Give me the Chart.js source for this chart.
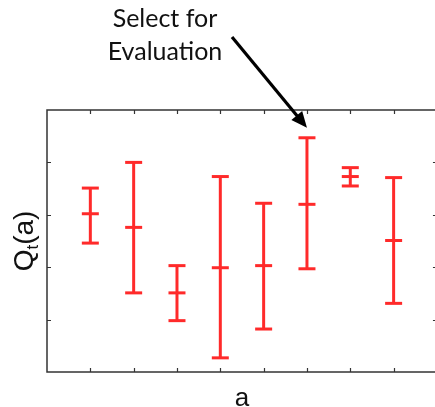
<!DOCTYPE html>
<html><head><meta charset="utf-8">
<script src="https://cdn.jsdelivr.net/npm/chart.js@4"></script>
<style>html,body{margin:0;padding:0;overflow:hidden;background:#fff}#wrap{width:435px;height:407px}</style>
</head><body><div id="wrap"><canvas id="c" width="435" height="407"></canvas></div>
<script>
const categories = [1, 2, 3, 4, 5, 6, 7, 8];
const meanValues = [3.02, 2.76, 1.51, 1.99, 2.03, 3.20, 3.73, 2.51];
const lowValues  = [2.46, 1.51, 0.98, 0.27, 0.82, 1.97, 3.55, 1.31];
const highValues = [3.51, 4.00, 2.03, 3.73, 3.22, 4.47, 3.90, 3.71];
const xTicks = [1, 2, 3, 4, 5, 6, 7, 8];
const yTicks = [1, 2, 3, 4];
const xMin = 0, xMax = 9, xVisibleMax = 8.955;
const selectedIndex = 5;

const RED = '#ff2a2a';
const pts = arr => categories.map((c, i) => ({x: c, y: arr[i]}));
const capDs = (arr) => ({
  type: 'scatter', data: pts(arr), pointStyle: 'line', pointRadius: 8.5,
  pointHoverRadius: 8.5, borderColor: RED, backgroundColor: RED, borderWidth: 3
});

const deco = {
  id: 'deco',
  beforeDatasetsDraw(chart) {
    const {ctx, scales: {x, y}} = chart;
    ctx.save();
    ctx.strokeStyle = RED; ctx.lineWidth = 3;
    categories.forEach((c, i) => {
      const px = x.getPixelForValue(c);
      ctx.beginPath();
      ctx.moveTo(px, y.getPixelForValue(lowValues[i]));
      ctx.lineTo(px, y.getPixelForValue(highValues[i]));
      ctx.stroke();
    });
    ctx.restore();
  },
  afterDraw(chart) {
    const {ctx, scales: {x, y}} = chart;
    ctx.save();
    const left = x.getPixelForValue(xMin), right = x.getPixelForValue(xMax);
    const top = y.getPixelForValue(5), bottom = y.getPixelForValue(0);
    // box
    ctx.strokeStyle = '#333'; ctx.lineWidth = 1.5;
    ctx.strokeRect(left, top, right - left, bottom - top);
    // ticks inward
    ctx.lineWidth = 1.2;
    const L = 4;
    xTicks.forEach(t => {
      const px = Math.round(x.getPixelForValue(t)) + 0.5;
      ctx.beginPath();
      ctx.moveTo(px, bottom); ctx.lineTo(px, bottom - L);
      ctx.moveTo(px, top); ctx.lineTo(px, top + L);
      ctx.stroke();
    });
    yTicks.forEach(t => {
      const py = Math.round(y.getPixelForValue(t)) + 0.5;
      ctx.beginPath();
      ctx.moveTo(left, py); ctx.lineTo(left + L, py);
      ctx.moveTo(right, py); ctx.lineTo(right - L, py);
      ctx.stroke();
    });
    // x label
    ctx.fillStyle = '#111';
    ctx.font = '26px "Liberation Sans", sans-serif';
    ctx.textAlign = 'center'; ctx.textBaseline = 'alphabetic';
    ctx.fillText('a', (left + right) / 2, 406);
    // y label rotated
    ctx.save();
    ctx.translate(33, 241);
    ctx.rotate(-Math.PI / 2);
    const big = '28px "Liberation Sans", sans-serif', small = '17px "Liberation Sans", sans-serif';
    ctx.font = big;
    const w1 = ctx.measureText('Q').width;
    ctx.font = small;
    const w2 = ctx.measureText('t').width;
    ctx.font = big;
    const w3 = ctx.measureText('(a)').width;
    let sx = -(w1 + w2 + w3) / 2;
    ctx.textAlign = 'left';
    ctx.fillText('Q', sx, 0); sx += w1;
    ctx.font = small;
    ctx.fillText('t', sx, 5); sx += w2;
    ctx.font = big;
    ctx.fillText('(a)', sx, 0);
    ctx.restore();
    // annotation
    ctx.font = '25px Lato, sans-serif';
    ctx.textAlign = 'center';
    ctx.fillText('Select for', 165, 27);
    ctx.fillText('Evaluation', 165, 60);
    // arrow
    const tx = x.getPixelForValue(categories[selectedIndex]);
    const ty = y.getPixelForValue(highValues[selectedIndex]) - 10;
    const sx0 = 232, sy0 = 37;
    const ang = Math.atan2(ty - sy0, tx - sx0);
    const hl = 16, hw = 7;
    const bx = tx - hl * Math.cos(ang), by = ty - hl * Math.sin(ang);
    ctx.strokeStyle = '#000'; ctx.lineWidth = 3.2; ctx.lineCap = 'butt';
    ctx.beginPath(); ctx.moveTo(sx0, sy0); ctx.lineTo(bx + 2 * Math.cos(ang), by + 2 * Math.sin(ang)); ctx.stroke();
    ctx.fillStyle = '#000';
    ctx.beginPath();
    ctx.moveTo(tx, ty);
    ctx.lineTo(bx + hw * Math.sin(ang), by - hw * Math.cos(ang));
    ctx.lineTo(bx - hw * Math.sin(ang), by + hw * Math.cos(ang));
    ctx.closePath(); ctx.fill();
    ctx.restore();
  }
};

new Chart(document.getElementById('c'), {
  type: 'scatter',
  data: { datasets: [capDs(meanValues), capDs(lowValues), capDs(highValues)] },
  options: {
    responsive: false, animation: false,
    layout: { autoPadding: false, padding: { left: 47, top: 110, right: 0, bottom: 35 } },
    plugins: { legend: { display: false }, tooltip: { enabled: false } },
    scales: {
      x: { type: 'linear', display: false, min: xMin, max: xVisibleMax },
      y: { type: 'linear', display: false, min: 0, max: 5 }
    }
  },
  plugins: [deco]
});
</script></body></html>
